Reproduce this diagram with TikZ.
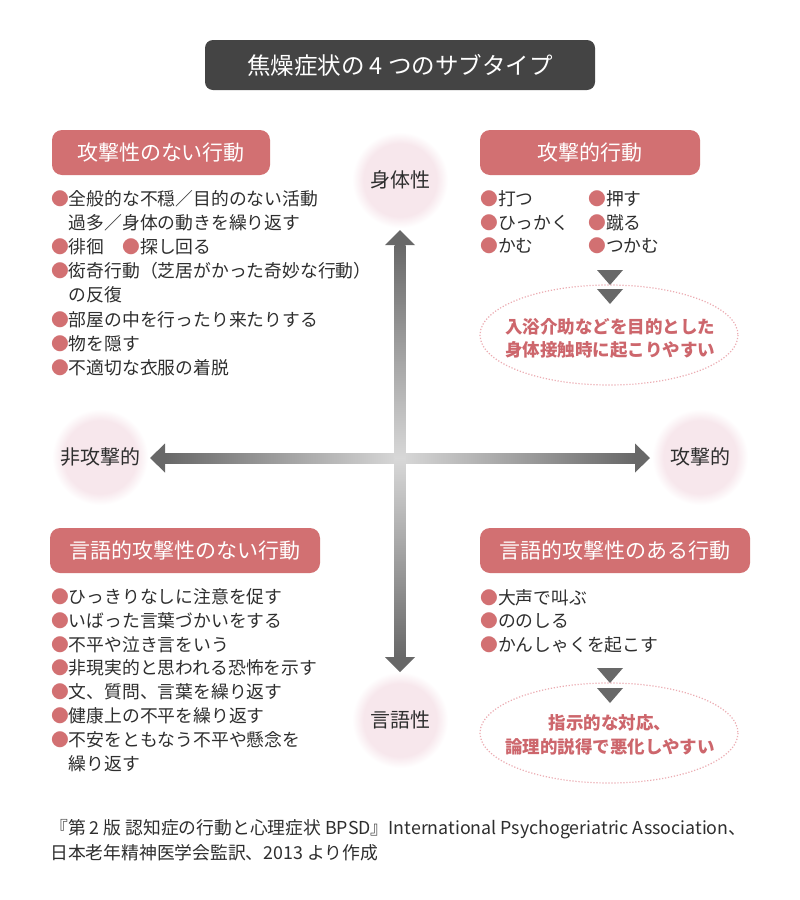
\documentclass[tikz,border=0pt]{standalone}
\usepackage{fontspec}
\setmainfont{Noto Sans CJK JP}
\usetikzlibrary{calc,positioning}

\definecolor{rose}{RGB}{210,112,114}
\definecolor{rosetext}{RGB}{205,102,108}
\definecolor{dotpink}{RGB}{236,172,178}
\definecolor{titlegray}{RGB}{68,68,68}
\definecolor{textgray}{RGB}{46,46,46}
\definecolor{arrdark}{RGB}{104,104,104}
\definecolor{arrlight}{RGB}{216,216,216}
\definecolor{circpink}{RGB}{247,231,236}

\pgfdeclareradialshading{softdisc}{\pgfpoint{0bp}{0bp}}{color(0bp)=(circpink); color(19bp)=(circpink); color(25bp)=(white); color(50bp)=(white)}

\newcommand{\bul}{{\color{rose}●}}

\begin{document}
\begin{tikzpicture}[x=1pt,y=-1pt,
    every node/.style={inner sep=0pt, text=textgray},
    body/.style={font=\fontsize{17.8}{24}\selectfont, anchor=base west},
    head/.style={fill=rose, rounded corners=10pt, text=white, minimum height=45pt, font=\fontsize{21}{24}\selectfont},
    axislabel/.style={font=\fontsize{20}{24}\selectfont},
    note/.style={draw=dotpink, line width=1.2pt, dash pattern=on 1.2pt off 1.8pt},
    notetext/.style={font=\fontsize{17.5}{23}\selectfont\bfseries, text=rosetext, align=center},
    tri/.style={fill=arrdark}]
        \fill[white] (0,0) rectangle (800,900);
        \useasboundingbox (0,0) rectangle (800,900);

        % title
        \node[fill=titlegray, rounded corners=8pt, minimum width=390pt, minimum height=50pt, text=white,
            font=\fontsize{23.5}{26}\selectfont] (title) at (400,65) {焦燥症状の 4 つのサブタイプ};

        % soft circles behind the axis labels
        \shade[shading=softdisc] (400,180) circle (48);
        \shade[shading=softdisc] (100,457) circle (48);
        \shade[shading=softdisc] (700,457) circle (48);
        \shade[shading=softdisc] (400,720) circle (48);
        \node[axislabel] (phys) at (400,180) {身体性};
        \node[axislabel] (nonag) at (100,457) {非攻撃的};
        \node[axislabel] (ag) at (700,457) {攻撃的};
        \node[axislabel] (verb) at (400,720) {言語性};

        % axes
        \coordinate (0) at (400,458);
        \coordinate (1) at (150,458);
        \coordinate (2) at (650,458);
        \coordinate (3) at (400,230);
        \coordinate (4) at (400,672);
        \shade[left color=arrdark, right color=arrlight] ($(1)+(15,-5)$) rectangle ($(0)+(0,5)$);
        \shade[left color=arrlight, right color=arrdark] ($(0)+(0,-5)$) rectangle ($(2)+(-15,5)$);
        \fill[arrdark] (1) -- ++(15,-14.5) -- ++(0,29) -- cycle;
        \fill[arrdark] (2) -- ++(-15,-14.5) -- ++(0,29) -- cycle;
        \shade[top color=arrdark, bottom color=arrlight] ($(3)+(-5.5,15)$) rectangle ($(0)+(5.5,0)$);
        \shade[top color=arrlight, bottom color=arrdark] ($(0)+(-5.5,0)$) rectangle ($(4)+(5.5,-15)$);
        \fill[arrdark] (3) -- ++(-15,15) -- ++(30,0) -- cycle;
        \fill[arrdark] (4) -- ++(-15,-15) -- ++(30,0) -- cycle;

        % headings
        \node[head, minimum width=218pt] (h1) at (161,152.5) {攻撃性のない行動};
        \node[head, minimum width=220pt] (h2) at (590,152.5) {攻撃的行動};
        \node[head, minimum width=270pt] (h3) at (185,550.5) {言語的攻撃性のない行動};
        \node[head, minimum width=270pt] (h4) at (615,550.5) {言語的攻撃性のある行動};

        % top left
        \foreach \t [count=\i] in {{\bul 全般的な不穏／目的のない活動}, {\hspace*{1em}過多／身体の動きを繰り返す},
            {\bul 徘徊　\bul 探し回る}, {\bul 衒奇行動（芝居がかった奇妙な行動）}, {\hspace*{1em}の反復},
            {\bul 部屋の中を行ったり来たりする}, {\bul 物を隠す}, {\bul 不適切な衣服の着脱}}
            \node[body] (tl\i) at (51,205.5+24.1*\i-24.1) {\t};

        % top right
        \foreach \a/\b [count=\i] in {打つ/押す, ひっかく/蹴る, かむ/つかむ} {
            \node[body] (tra\i) at (480,205.5+23.5*\i-23.5) {\bul\a};
            \node[body] (trb\i) at (588,205.5+23.5*\i-23.5) {\bul\b};
        }
        \draw[note] (609,335) ellipse (129 and 50);
        \fill[tri] (597,270) -- (623,270) -- (610,285) -- cycle;
        \fill[tri] (597,289) -- (623,289) -- (610,304) -- cycle;
        \node[notetext] (n1) at (610,338) {入浴介助などを目的とした\\身体接触時に起こりやすい};

        % bottom left
        \foreach \t [count=\i] in {{\bul ひっきりなしに注意を促す}, {\bul いばった言葉づかいをする},
            {\bul 不平や泣き言をいう}, {\bul 非現実的と思われる恐怖を示す}, {\bul 文、質問、言葉を繰り返す},
            {\bul 健康上の不平を繰り返す}, {\bul 不安をともなう不平や懸念を}, {\hspace*{1em}繰り返す}}
            \node[body] (bl\i) at (51,603.5+23.8*\i-23.8) {\t};

        % bottom right
        \foreach \t [count=\i] in {{\bul 大声で叫ぶ}, {\bul ののしる}, {\bul かんしゃくを起こす}}
            \node[body] (br\i) at (480,604+23.5*\i-23.5) {\t};
        \draw[note] (609,733) ellipse (129 and 50);
        \fill[tri] (597,668) -- (623,668) -- (610,683) -- cycle;
        \fill[tri] (597,688) -- (623,688) -- (610,703) -- cycle;
        \node[notetext, font=\fontsize{17.5}{24}\selectfont\bfseries] (n2) at (610,735) {指示的な対応、\\論理的説得で悪化しやすい};

        % source
        \node[body, font=\fontsize{17.8}{24}\selectfont] (src1) at (50,834) {『第 2 版 認知症の行動と心理症状 BPSD』International Psychogeriatric Association、};
        \node[body, font=\fontsize{17.8}{24}\selectfont] (src2) at (50,859) {日本老年精神医学会監訳、2013 より作成};
    \end{tikzpicture}
\end{document}
